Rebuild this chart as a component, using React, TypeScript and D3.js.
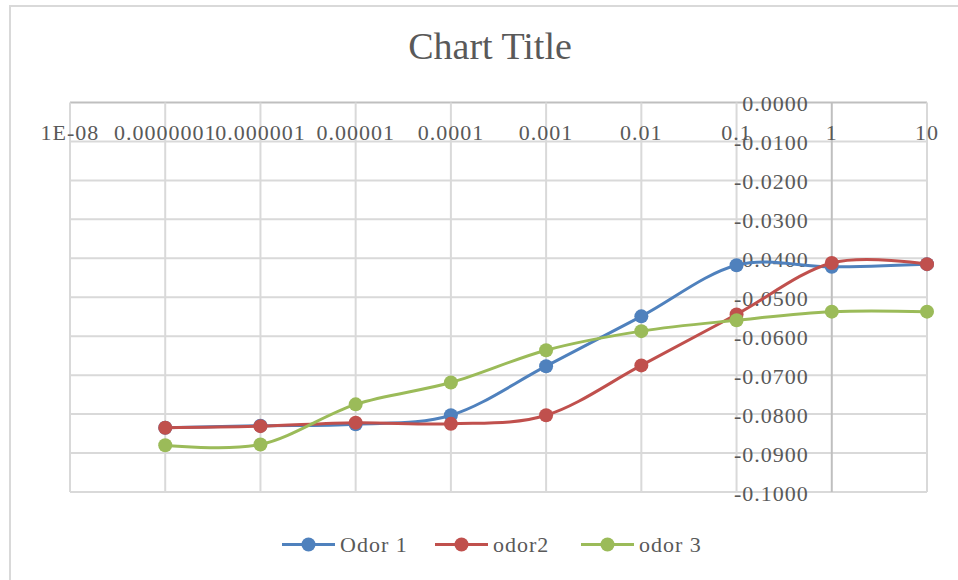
import React, { useEffect, useRef } from "react";
import * as d3 from "d3";

// concentrations (x) and responses per odor
const concentrations = [1e-7, 1e-6, 1e-5, 1e-4, 1e-3, 0.01, 0.1, 1, 10];
const odor1 = [-0.0835, -0.083, -0.0826, -0.0803, -0.0677, -0.0549, -0.0418, -0.0422, -0.0415];
const odor2 = [-0.0835, -0.0831, -0.0822, -0.0825, -0.0803, -0.0675, -0.0544, -0.0412, -0.0415];
const odor3 = [-0.088, -0.0878, -0.0775, -0.0719, -0.0636, -0.0587, -0.0559, -0.0537, -0.0537];

const seriesNames = ["Odor 1", "odor2", "odor 3"];
const seriesColors = ["#4F81BD", "#C0504D", "#9BBB59"];

const xTickValues = [1e-8, 1e-7, 1e-6, 1e-5, 1e-4, 1e-3, 0.01, 0.1, 1, 10];
const xTickLabels = ["1E-08", "0.0000001", "0.000001", "0.00001", "0.0001", "0.001", "0.01", "0.1", "1", "10"];
const yTickValues = [0, -0.01, -0.02, -0.03, -0.04, -0.05, -0.06, -0.07, -0.08, -0.09, -0.1];

const App = () => {
  const chartRef = useRef<HTMLDivElement>(null);

  useEffect(() => {
    const width = 958;
    const height = 580;
    const font = "'Liberation Serif', 'Times New Roman', serif";
    const textColor = "#595959";

    d3.select(chartRef.current).select("svg").remove();

    const svg = d3
      .select(chartRef.current)
      .append("svg")
      .attr("width", width)
      .attr("height", height)
      .style("position", "absolute")
      .style("left", "0px")
      .style("top", "0px")
      .style("background", "#fff");

    // outer chart border
    svg
      .append("rect")
      .attr("x", 10)
      .attr("y", 6)
      .attr("width", width + 20)
      .attr("height", height + 20)
      .attr("fill", "#fff")
      .attr("stroke", "#d9d9d9")
      .attr("stroke-width", 2);

    const x = d3.scaleLog().domain([1e-8, 10]).range([70, 927]);
    const y = d3.scaleLinear().domain([-0.1, 0]).range([492, 102.5]);

    // gridlines
    svg
      .append("g")
      .selectAll("line")
      .data(yTickValues)
      .enter()
      .append("line")
      .attr("x1", x(1e-8))
      .attr("x2", x(10))
      .attr("y1", (d) => y(d))
      .attr("y2", (d) => y(d))
      .attr("stroke", (d) => (d === 0 ? "#bfbfbf" : "#d9d9d9"))
      .attr("stroke-width", 2);

    svg
      .append("g")
      .selectAll("line")
      .data(xTickValues)
      .enter()
      .append("line")
      .attr("x1", (d) => x(d))
      .attr("x2", (d) => x(d))
      .attr("y1", y(0))
      .attr("y2", y(-0.1))
      .attr("stroke", (d) => (d === 1 ? "#bfbfbf" : "#d9d9d9"))
      .attr("stroke-width", 2);

    // title
    svg
      .append("text")
      .attr("x", 490)
      .attr("y", 59)
      .attr("text-anchor", "middle")
      .style("font-family", font)
      .style("font-size", "38px")
      .attr("fill", textColor)
      .text("Chart Title");

    // x labels sit under the y=0 axis
    svg
      .append("g")
      .selectAll("text")
      .data(xTickValues)
      .enter()
      .append("text")
      .attr("x", (d) => x(d))
      .attr("y", 140)
      .attr("text-anchor", "middle")
      .style("font-family", font)
      .style("font-size", "22px")
      .style("letter-spacing", "1px")
      .attr("fill", textColor)
      .text((d, i) => xTickLabels[i]);

    // y labels sit left of the x=1 axis
    svg
      .append("g")
      .selectAll("text")
      .data(yTickValues)
      .enter()
      .append("text")
      .attr("x", x(1) - 23)
      .attr("y", (d) => y(d) + 8.5)
      .attr("text-anchor", "end")
      .style("font-family", font)
      .style("font-size", "22px")
      .style("letter-spacing", "1px")
      .attr("fill", textColor)
      .text((d) => d.toFixed(4));

    // series
    const allSeries = [odor1, odor2, odor3];
    const line = d3
      .line<number>()
      .x((d, i) => x(concentrations[i]))
      .y((d) => y(d))
      .curve(d3.curveCardinal.tension(0));

    allSeries.forEach((values, s) => {
      const g = svg.append("g");
      g.append("path")
        .datum(values)
        .attr("d", line)
        .attr("fill", "none")
        .attr("stroke", seriesColors[s])
        .attr("stroke-width", 3)
        .attr("stroke-linecap", "round");
      g.selectAll("circle")
        .data(values)
        .enter()
        .append("circle")
        .attr("cx", (d, i) => x(concentrations[i]))
        .attr("cy", (d) => y(d))
        .attr("r", 7)
        .attr("fill", seriesColors[s]);
    });

    // legend
    const legendX = [282, 435, 581];
    const legendY = 544.5;
    const legend = svg
      .append("g")
      .selectAll("g")
      .data(seriesNames)
      .enter()
      .append("g")
      .attr("transform", (d, i) => `translate(${legendX[i]},${legendY})`);

    legend
      .append("line")
      .attr("x1", 0)
      .attr("x2", 53)
      .attr("stroke", (d, i) => seriesColors[i])
      .attr("stroke-width", 3);

    legend
      .append("circle")
      .attr("cx", 26.5)
      .attr("r", 7)
      .attr("fill", (d, i) => seriesColors[i]);

    legend
      .append("text")
      .attr("x", 58)
      .attr("y", 7.5)
      .style("font-family", font)
      .style("font-size", "22px")
      .style("letter-spacing", "1px")
      .attr("fill", textColor)
      .text((d) => d);
  }, []);

  return <div ref={chartRef}></div>;
};

export default App;
